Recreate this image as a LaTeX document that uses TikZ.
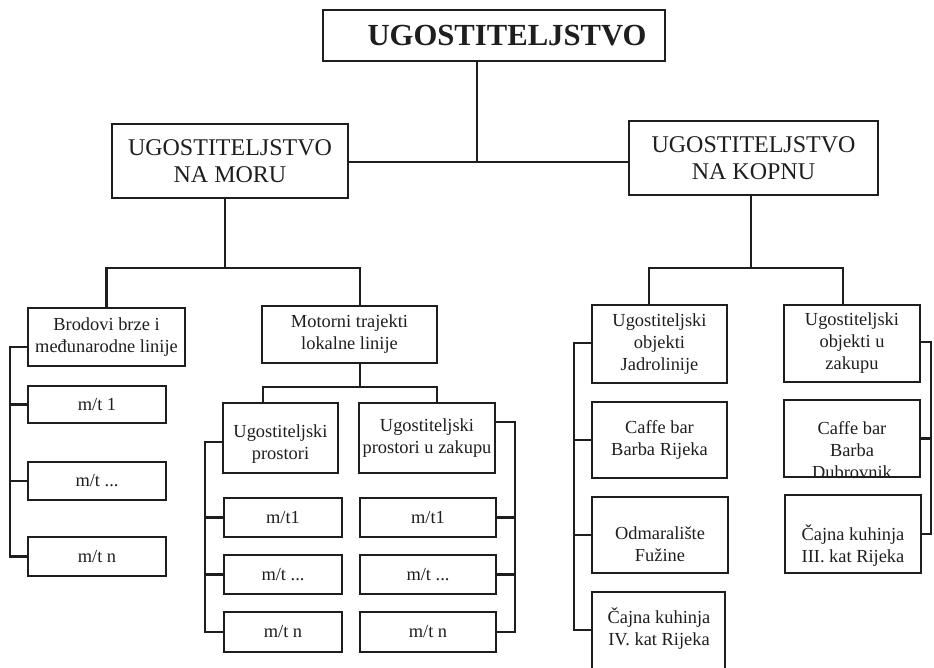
\documentclass[tikz,border=0pt]{standalone}
\usepackage{fontspec}
\setmainfont{Liberation Serif}
\definecolor{ink}{RGB}{30,30,30}
\begin{document}
\begin{tikzpicture}[x=0.75pt,y=-0.75pt,
  box/.style={draw=ink, line width=1.6pt, inner sep=0pt, align=center,
              font=\fontsize{13.8}{16.5}\selectfont, text=ink},
  big/.style={font=\fontsize{18}{20}\selectfont},
  lbl/.style={inner sep=0pt, align=center, font=\fontsize{13.8}{16.5}\selectfont, text=ink},
  ttl/.style={inner sep=0pt, font=\fontsize{23}{26}\selectfont\bfseries, text=ink},
  conn/.style={draw=ink, line width=1.6pt, line cap=rect},
  sz/.style 2 args={minimum width=#1*0.75pt, minimum height=#2*0.75pt},
]
\useasboundingbox (0,0) rectangle (934,667);

% level 0 / 1
\node[box, sz={342}{51}] (top) at (494,35.5) {};
\node[ttl] (title) at (507,36) {UGOSTITELJSTVO};
\node[box, big, sz={236}{74}] (moru) at (230,161) {UGOSTITELJSTVO\\NA MORU};
\node[box, big, sz={249}{74}] (kopnu) at (753.5,158) {UGOSTITELJSTVO\\NA KOPNU};

% level 2
\node[box, sz={157}{58}] (brodovi) at (106.5,337) {Brodovi brze i\\međunarodne linije};
\node[box, sz={175}{57}] (motorni) at (349.5,334.5) {Motorni trajekti\\lokalne linije};
\node[box, sz={135}{78}] (jadro) at (659.5,344) {Ugostiteljski\\objekti\\Jadrolinije};
\node[box, sz={136}{77}] (zakupu) at (852,343.5) {Ugostiteljski\\objekti u\\zakupu};

% Brodovi column
\node[box, sz={138}{37}] (mtB1) at (97,404.5) {m/t 1};
\node[box, sz={138}{38}] (mtBd) at (97,481) {m/t ...};
\node[box, sz={138}{39}] (mtBn) at (97,556.5) {m/t n};

% Motorni sub-columns
\node[box, sz={115}{70}] (prostori) at (280.5,438) {};
\node[lbl] (tprostori) at (280.5,444) {Ugostiteljski\\prostori};
\node[box, sz={136}{70}] (pzak) at (427,438) {Ugostiteljski\\prostori u zakupu};

\node[box, sz={118}{39}] (mtP1) at (283,517.5) {m/t1};
\node[box, sz={118}{39}] (mtPd) at (283,574.5) {m/t ...};
\node[box, sz={118}{40}] (mtPn) at (283,632) {m/t n};
\node[box, sz={136}{39}] (mtQ1) at (428,517.5) {m/t1};
\node[box, sz={136}{39}] (mtQd) at (428,574.5) {m/t ...};
\node[box, sz={136}{40}] (mtQn) at (428,632) {m/t n};

% Jadrolinije column
\node[box, sz={135}{76}] (caffeR) at (659.5,440) {Caffe bar\\Barba Rijeka};
\node[box, sz={136}{76}] (odmar) at (660,535) {};
\node[lbl] (todmar) at (660,544) {Odmaralište\\Fužine};
\node[box, sz={133}{88}] (cajna4) at (658.5,636) {};
\node[lbl] (tcajna4) at (659,629) {Čajna kuhinja\\IV. kat Rijeka};

% zakup column
\node[box, sz={136}{77}] (caffeD) at (852,438.5) {};
\node[lbl] (tcaffeD) at (852,450) {Caffe bar\\Barba\\Dubrovnik};
\node[box, sz={136}{78}] (cajna3) at (853,534) {};
\node[lbl] (tcajna3) at (853,546) {Čajna kuhinja\\III. kat Rijeka};

% connectors level 0-1
\coordinate (j0) at (477,162);
\draw[conn, line width=1.2pt] (top.south -| j0) -- (j0);
\draw[conn, line width=2.2pt] (moru.east |- j0) -- (kopnu.west |- j0);

% connectors level 1-2
\coordinate (jl) at (225,268);
\coordinate (jr) at (751,268);
\coordinate (hm) at (360,268);
\coordinate (hj) at (649,268);
\coordinate (hz) at (843,268);
\draw[conn] (moru.south -| jl) -- (jl);
\draw[conn] (kopnu.south -| jr) -- (jr);
\draw[conn] (brodovi.north) -- (brodovi.north |- jl) -- (hm) -- (motorni.north -| hm);
\draw[conn] (jadro.north -| hj) -- (hj) -- (hz) -- (zakupu.north -| hz);

% Motorni split
\coordinate (hp) at (360,387);
\coordinate (pl) at (263,387);
\coordinate (pr) at (437,387);
\draw[conn] (motorni.south -| hp) -- (hp);
\draw[conn] (prostori.north -| pl) -- (pl) -- (pr) -- (pzak.north -| pr);

% brackets
\coordinate (bA) at (10,347);
\draw[conn] (brodovi.west |- bA) -- (bA) |- (mtBn.west);
\draw[conn] (bA |- mtB1.west) -- (mtB1.west);
\draw[conn] (bA |- mtBd.west) -- (mtBd.west);

\coordinate (pA) at (205,442);
\draw[conn] (prostori.west |- pA) -- (pA) |- (mtPn.west);
\draw[conn] (pA |- mtP1.west) -- (mtP1.west);
\draw[conn] (pA |- mtPd.west) -- (mtPd.west);

\coordinate (qA) at (515,422);
\draw[conn] (pzak.east |- qA) -- (qA) |- (mtQn.east);
\draw[conn] (qA |- mtQ1.east) -- (mtQ1.east);
\draw[conn] (qA |- mtQd.east) -- (mtQd.east);

\coordinate (jA) at (574,343);
\coordinate (jB) at (574,630);
\draw[conn] (jadro.west |- jA) -- (jA) -- (jB) -- (cajna4.west |- jB);
\draw[conn] (jA |- caffeR.west) -- (caffeR.west);
\draw[conn] (jA |- odmar.west) -- (odmar.west);

\coordinate (zA) at (931,342);
\draw[conn] (zakupu.east |- zA) -- (zA) |- (cajna3.east);
\draw[conn] (zA |- caffeD.east) -- (caffeD.east);
\end{tikzpicture}
\end{document}
